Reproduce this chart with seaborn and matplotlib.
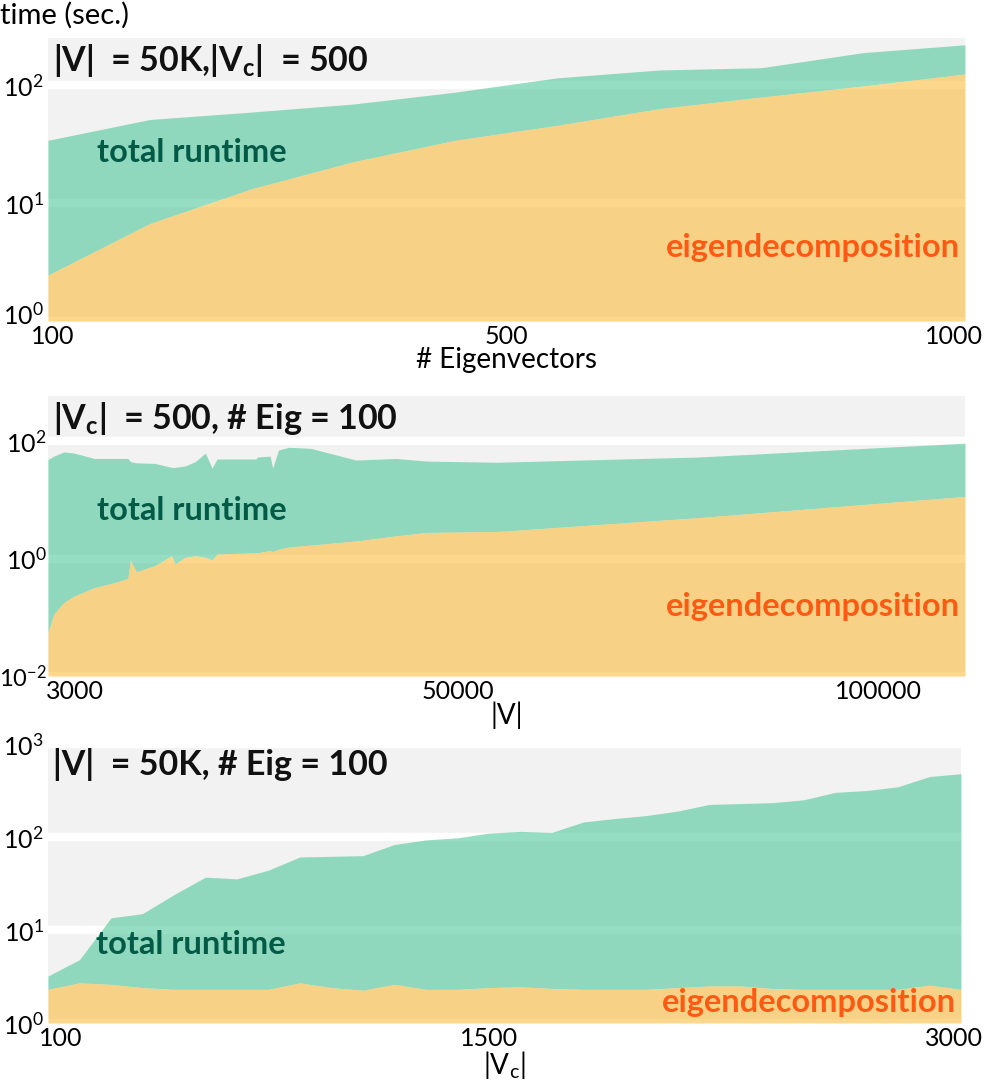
import numpy as np
import pandas as pd
import seaborn as sns
import matplotlib.pyplot as plt
import matplotlib.ticker as mticker
from matplotlib.transforms import ScaledTranslation

sns.set_theme(style="darkgrid", rc={
    "axes.facecolor": "#f2f2f2",
    "grid.color": "white",
    "grid.linewidth": 6,
    "axes.edgecolor": "none",
})
plt.rcParams["font.family"] = ["Lato", "DejaVu Sans"]
plt.rcParams["mathtext.fontset"] = "custom"
plt.rcParams["mathtext.rm"] = "Lato"
plt.rcParams["mathtext.bf"] = "Lato:bold"
plt.rcParams["mathtext.it"] = "Lato:italic"

COLORS = {
    "total": "#4fc79b",
    "eig": "#fcbd3e",
    "total_txt": "#005a46",
    "eig_txt": "#ff5a14",
}
FILL_ALPHA = 0.6

# panel 1: number of eigenvectors
eig_n = [100, 200, 300, 400, 500, 600, 700, 800, 900, 1000]
p1_total = [34, 51, 59, 69, 87, 115, 134, 140, 188, 219]
p1_eig = [2.45, 6.7, 13.2, 22.4, 34, 45.5, 63, 79, 98, 124]

# panel 2: |V|
v_n = [1300, 2000, 3200, 4400, 6800, 9200, 10800, 11100, 11800, 14000,
       16000, 16400, 17600, 18800, 20000, 20800, 21400, 26000, 26200, 27700,
       28000, 28700, 29900, 32500, 37900, 42700, 46300, 54700, 78600, 110300]
p2_total = [49, 56, 66, 63, 51, 51, 51, 45, 43, 42,
            36, 36, 38, 45, 63, 35, 50, 50, 54, 56,
            35, 71, 79, 76, 48, 51, 46, 44, 54, 93]
p2_eig = [0.055, 0.115, 0.18, 0.23, 0.32, 0.39, 0.46, 0.93, 0.60, 0.76,
          1.12, 0.81, 1.05, 1.12, 1.05, 0.95, 1.2, 1.26, 1.26, 1.38,
          1.32, 1.45, 1.58, 1.70, 2.0, 2.45, 2.8, 2.9, 5.0, 11.5]

# panel 3: |Vc|
vc_n = list(range(100, 3001, 100))
p3_total = [3.2, 4.8, 13.5, 15, 24, 37, 35.5, 44, 61, 62,
            63, 83, 93, 98, 110, 115, 112, 145, 158, 170,
            190, 224, 229, 234, 251, 302, 316, 347, 447, 479]
p3_eig = [2.3, 2.7, 2.6, 2.4, 2.3, 2.3, 2.3, 2.3, 2.7, 2.4,
          2.25, 2.6, 2.3, 2.3, 2.4, 2.45, 2.35, 2.3, 2.3, 2.3,
          2.4, 2.5, 2.5, 2.35, 2.3, 2.3, 2.3, 2.3, 2.55, 2.3]

panels = [
    dict(x=eig_n, total=p1_total, eig=p1_eig, ylim=(1, 250),
         yticks=[1, 10, 100], xticks=[100, 550, 1000], xticklabels=["100", "500", "1000"],
         xlabel="# Eigenvectors", title=r"|V|  = 50K,|V$_\mathbf{c}$|  = 500",
         rect=[0.048, 0.7052, 0.917, 0.2599], nudge=(5, -11)),
    dict(x=v_n, total=p2_total, eig=p2_eig, ylim=(0.01, 590),
         yticks=[0.01, 1, 100], xticks=[3000, 50000, 100000], xticklabels=["3000", "50000", "100000"],
         xlabel="|V|", title=r"|V$_\mathbf{c}$|  = 500, # Eig = 100",
         rect=[0.048, 0.3792, 0.917, 0.2571], nudge=(13, 0)),
    dict(x=vc_n, total=p3_total, eig=p3_eig, ylim=(1, 1000),
         yticks=[1, 10, 100, 1000], xticks=[100, 1500, 3000], xticklabels=["100", "1500", "3000"],
         xlabel=r"|V$_\mathrm{c}$|", title=r"|V|  = 50K, # Eig = 100",
         rect=[0.048, 0.0606, 0.913, 0.2562], nudge=(13, -7)),
]


def pow10(v, pos):
    e = int(round(np.log10(v)))
    return r"$10^{%d}$" % e


fig = plt.figure(figsize=(10, 10.89), dpi=100)

for i, p in enumerate(panels):
    ax = fig.add_axes(p["rect"])
    df = pd.DataFrame({"x": p["x"], "total": p["total"], "eig": p["eig"]})
    lo = p["ylim"][0]
    ax.set_yscale("log")
    ax.fill_between(df["x"], df["eig"], df["total"], color=COLORS["total"],
                    alpha=FILL_ALPHA, linewidth=0, zorder=2)
    ax.fill_between(df["x"], lo, df["eig"], color=COLORS["eig"],
                    alpha=FILL_ALPHA, linewidth=0, zorder=2)
    ax.set_xlim(df["x"].iloc[0], df["x"].iloc[-1])
    ax.set_ylim(*p["ylim"])
    ax.yaxis.set_major_locator(mticker.FixedLocator(p["yticks"]))
    ax.yaxis.set_minor_locator(mticker.NullLocator())
    ax.yaxis.set_major_formatter(mticker.FuncFormatter(pow10))
    ax.set_xticks(p["xticks"])
    ax.set_xticklabels(p["xticklabels"])
    ax.grid(axis="x", visible=False)
    ax.tick_params(axis="y", labelsize=18, pad=1 if i == 1 else 3, length=0)
    ax.tick_params(axis="x", labelsize=18, pad=3, length=0)
    ax.set_xlabel(p["xlabel"], fontsize=20, labelpad=-1, color="black")
    for t in ax.get_xticklabels() + ax.get_yticklabels():
        t.set_color("black")
    # first x label nudged right, last one nudged left like the reference
    xl = ax.get_xticklabels()
    n0, n1 = p["nudge"]
    xl[0].set_transform(xl[0].get_transform() + ScaledTranslation(n0 / 100, 0, fig.dpi_scale_trans))
    xl[-1].set_transform(xl[-1].get_transform() + ScaledTranslation(n1 / 100, 0, fig.dpi_scale_trans))
    if i == 0:
        yl = ax.get_yticklabels()[0]
        yl.set_transform(yl.get_transform() + ScaledTranslation(0, 8 / 100, fig.dpi_scale_trans))
    if i == 1:
        yl = ax.get_yticklabels()[0]
        yl.set_fontsize(17)
    sns.despine(ax=ax, left=True, bottom=True)

    ax.text(0.005, 0.985, p["title"], transform=ax.transAxes, fontsize=24.5,
            fontweight="bold", va="top", ha="left", color="#111111", zorder=5)
    ty = [0.595, 0.59, 0.28][i]
    ey = [0.26, 0.25, 0.075][i]
    ax.text(0.053, ty, "total runtime", transform=ax.transAxes, fontsize=23.5,
            fontweight="bold", va="center", ha="left", color=COLORS["total_txt"], zorder=5)
    ax.text(0.995, ey, "eigendecomposition", transform=ax.transAxes, fontsize=23.5,
            fontweight="bold", va="center", ha="right", color=COLORS["eig_txt"], zorder=5)

fig.text(0.0, 0.998, "time (sec.)", fontsize=21, va="top", ha="left", color="black")

fig.savefig("out.png", dpi=100)
